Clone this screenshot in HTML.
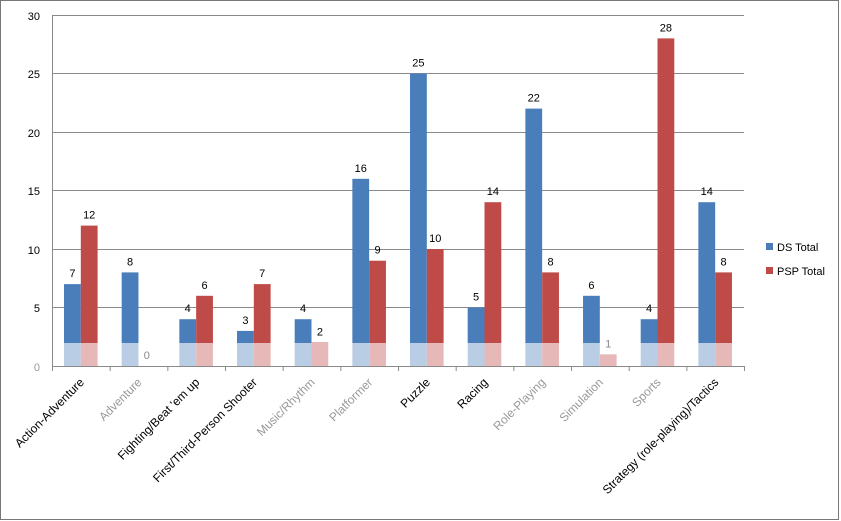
<!DOCTYPE html>
<html><head><style>body{margin:0;background:#fff}svg{display:block;font-family:"Liberation Sans",sans-serif}</style></head><body>
<svg width="841" height="521" viewBox="0 0 841 521">
<rect x="0.5" y="0.5" width="838" height="519" fill="#fff" stroke="#777"/>
<g stroke="#8a8a8a" stroke-width="1">
<line x1="52" y1="15.5" x2="744" y2="15.5"/><line x1="52" y1="73.5" x2="744" y2="73.5"/><line x1="52" y1="132.5" x2="744" y2="132.5"/><line x1="52" y1="190.5" x2="744" y2="190.5"/><line x1="52" y1="249.5" x2="744" y2="249.5"/><line x1="52" y1="307.5" x2="744" y2="307.5"/>
<line x1="52.5" y1="15" x2="52.5" y2="366"/><line x1="52" y1="366.5" x2="744" y2="366.5"/>
</g>
<g font-size="11" fill="#000" text-anchor="end">
<text x="40" y="20">30</text><text x="40" y="78">25</text><text x="40" y="137">20</text><text x="40" y="195">15</text><text x="40" y="254">10</text><text x="40" y="312">5</text><text x="40" y="371" fill="#999">0</text>
</g>
<g id="bars"></g>
<g id="legend">
<rect x="766" y="243" width="7" height="7" fill="#4a7ebb"/><text x="777" y="251" font-size="11">DS Total</text>
<rect x="766" y="267" width="7" height="7" fill="#be4b48"/><text x="777" y="275" font-size="11">PSP Total</text>
</g>
</svg>
<script>
var ds=[7,8,4,3,4,16,25,5,22,6,4,14],psp=[12,0,6,7,2,9,10,14,8,1,28,8];
var names=["Action-Adventure","Adventure","Fighting/Beat 'em up","First/Third-Person Shooter","Music/Rhythm","Platformer","Puzzle","Racing","Role-Playing","Simulation","Sports","Strategy (role-playing)/Tactics"];
var dark=[1,0,1,1,0,0,1,1,0,0,0,1];
var s='',x0=52,cw=57.67,u=11.7,z=366,fb=343;
for(var i=0;i<12;i++){
 var c=x0+cw*i,bx=c+12,w=16.8;
 [[ds[i],'#4a7ebb','#b9cde5',bx],[psp[i],'#be4b48','#e6b9b8',bx+w]].forEach(function(a){
  var h=a[0]*u,y=z-h;
  if(a[0]>0){
   if(y<fb) s+='<rect x="'+a[3]+'" y="'+y+'" width="'+w+'" height="'+(fb-y)+'" fill="'+a[1]+'"/>';
   var ty=Math.max(y,fb);
   s+='<rect x="'+a[3]+'" y="'+ty+'" width="'+w+'" height="'+(z-ty)+'" fill="'+a[2]+'"/>';
  }
  s+='<text x="'+(a[3]+w/2)+'" y="'+(y-7)+'" font-size="11" text-anchor="middle" fill="'+(a[0]<2?'#888':'#000')+'">'+a[0]+'</text>';
 });
 s+='<line x1="'+(c+0.5)+'" y1="366" x2="'+(c+0.5)+'" y2="371" stroke="#8a8a8a"/>';
 var lx=c+cw/2+4;
 s+='<text transform="translate('+lx+',383) rotate(-45)" font-size="12" text-anchor="end" fill="'+(dark[i]?'#000':'#999')+'">'+names[i].replace("'","&#39;")+'</text>';
}
s+='<line x1="744.5" y1="366" x2="744.5" y2="371" stroke="#8a8a8a"/>';
document.getElementById('bars').innerHTML=s;
</script>
</body></html>
